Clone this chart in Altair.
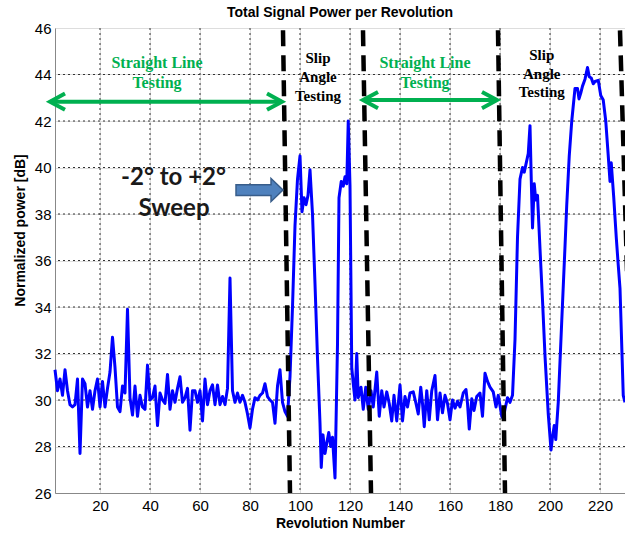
import altair as alt
import pandas as pd

# Total signal power per revolution (normalized, dB)
rev = [
    2, 3, 4, 5, 6, 7, 8, 9, 10, 11, 12, 13, 14, 15, 16, 17, 18, 19, 20, 21,
    22, 23, 24, 25, 26, 27, 28, 29, 30, 31, 32, 33, 34, 35, 36, 37, 38, 39, 40, 41,
    42, 43, 44, 45, 46, 47, 48, 49, 50, 51, 52, 53, 54, 55, 56, 57, 58, 59, 60, 61,
    62, 63, 64, 65, 66, 67, 68, 69, 70, 71, 72, 73, 74, 75, 76, 77, 78, 79, 80, 81,
    82, 83, 84, 85, 86, 87, 88, 89, 90, 91, 92, 93, 94, 95,
    96, 97, 98, 99, 100, 100.8, 101.6, 102.4, 103.2, 104, 105, 106, 107, 108, 108.5,
    109.2, 110, 110.8, 111.5, 112.3, 113, 114, 115, 115.6, 116.5, 117.3, 118, 118.7,
    119.3, 120, 120.7, 121.3, 122, 122.7, 123.3, 124.4, 125.3, 126.3, 127.3,
    128.4, 129.3, 130.7, 131.7, 132.7, 133.6, 134.7, 135.7, 136.7, 137.6, 138.7,
    140, 141, 142, 143, 144, 145.3, 146.4, 147.3, 148.3, 149, 149.7, 150.7, 151.7,
    152.7, 154, 155, 156, 157, 158, 159, 160, 161, 162, 163, 164, 165.3, 166.4, 167,
    167.7, 168.7, 169.6, 170.7, 172, 173, 174, 175, 176, 177.3, 178.4, 179.3, 180.7,
    181.3, 182, 183, 184, 185,
    186, 187, 188, 189, 189.7, 190.5, 191.3, 192, 192.5, 193, 193.7, 194.3, 195,
    196, 197, 198, 199.3, 200.4, 201, 201.7, 202.3, 203.3, 204.7, 206, 206.7, 207.7,
    208.7, 210, 211, 211.6, 212.3, 213, 214, 215, 215.7, 216.5, 217.3, 218, 219.3,
    220.3, 221.3, 222.3, 223.3, 224, 224.5, 225.5, 226.5, 227.3, 228, 229.3, 230,
]
power = [
    31.3, 30.4, 30.9, 30.2, 31.3, 30.4, 29.8, 29.7, 29.8, 30.9, 27.7, 30.9, 30.7, 29.7, 30.4, 29.6, 30.4, 30.9, 29.7, 30.8,
    29.7, 30.5, 31.2, 32.7, 31.4, 29.7, 29.5, 30.6, 30.3, 33.9, 30.1, 29.35, 30.6, 29.3, 30.2, 29.7, 29.6, 31.5, 30.0, 30.1,
    30.6, 28.9, 30.3, 30.0, 29.85, 31.1, 29.6, 30.4, 29.9, 30.5, 31.0, 29.9, 30.1, 30.5, 28.7, 30.4, 30.4, 29.9, 30.4, 29.1,
    30.9, 29.8, 30.4, 30.65, 29.8, 30.65, 29.8, 30.15, 29.8, 30.5, 35.25, 30.4, 29.9, 30.3, 29.9, 30.2, 29.9, 29.4, 28.8, 29.6,
    30.1, 30.0, 30.2, 30.3, 30.7, 30.15, 30.0, 29.9, 29.0, 30.6, 31.3, 29.9, 29.5, 29.3,
    31.0, 34.0, 37.5, 39.5, 40.5, 38.1, 38.7, 38.4, 38.8, 39.9, 38.0, 35.0, 31.8, 29.0, 27.1,
    28.5, 27.7, 28.2, 28.6, 28.0, 28.4, 26.65, 32.4, 38.7, 39.4, 39.2, 39.6, 39.3,
    42.0, 39.2, 31.4, 30.7, 30.0, 32.0, 30.1, 30.55, 29.6, 30.55, 29.6,
    30.4, 29.7, 31.2, 29.3, 30.4, 29.7, 30.35, 29.85, 29.1, 30.2, 29.1,
    30.65, 29.1, 30.15, 29.7, 30.3, 30.35, 29.85, 29.4, 30.55, 29.85, 28.85, 30.4, 29.15,
    30.4, 31.05, 29.15, 30.3, 29.45, 30.2, 29.85, 29.15, 30.0, 29.65, 29.95, 29.7, 30.3, 30.45, 29.85,
    28.75, 30.05, 29.55, 30.15, 30.3, 29.3, 31.15, 30.8, 30.55, 30.35, 29.7, 30.2, 29.3,
    29.2, 29.6, 30.1, 29.9, 30.2,
    32.6, 37.0, 39.5, 40.0, 39.8, 40.2, 40.6, 41.8, 39.5, 37.4, 39.3, 38.6, 38.8,
    36.5, 34.3, 31.9, 29.4, 27.85, 28.4, 28.9, 28.3, 29.9, 33.4, 36.6, 38.4, 40.5,
    42.0, 43.4, 43.4, 42.95, 43.2, 43.5, 43.8, 44.3, 43.9, 43.85, 43.6, 43.7, 43.75,
    43.1, 42.9, 42.0, 40.5, 39.4, 40.2, 38.7, 37.0, 35.8, 34.8, 30.2, 29.9,
]

# Phase boundaries (dashed, slightly slanted): revolution at top and bottom of the axes
boundary_top = [93.2, 125.2, 179.2, 228.0]
boundary_bottom = [96.0, 128.4, 182.0, 233.4]

# Straight-line testing spans (double-headed arrows)
span_start = [0.0, 125.2]
span_end = [92.8, 178.8]
span_level = [42.83, 42.9]

x_ticks = [20, 40, 60, 80, 100, 120, 140, 160, 180, 200, 220]
y_ticks = [26, 28, 30, 32, 34, 36, 38, 40, 42, 44, 46]

GREEN = "#00b050"
SANS = "Liberation Sans"
SERIF = "Liberation Serif"

x_scale = alt.Scale(domain=[2, 230], nice=False, zero=False)
y_scale = alt.Scale(domain=[26, 46], nice=False, zero=False)

x_axis = alt.Axis(values=x_ticks, title="Revolution Number", grid=True, ticks=False,
                  labelFontSize=15, labelPadding=5, titleFontSize=14, titlePadding=3)
y_axis = alt.Axis(values=y_ticks, title="Normalized power [dB]", grid=True, ticks=False,
                  labelFontSize=15, labelPadding=4, titleFontSize=14,
                  titleX=-28, titleY=202)

# dotted grid drawn as its own layer so it sits under the data
grid_x = alt.Chart(pd.DataFrame({"rev": x_ticks})).mark_rule(
    color="#333333", strokeWidth=1, strokeDash=[2, 3]
).encode(x=alt.X("rev:Q", scale=x_scale, axis=x_axis))
grid_y = alt.Chart(pd.DataFrame({"power": y_ticks[1:-1]})).mark_rule(
    color="#333333", strokeWidth=1, strokeDash=[2, 3]
).encode(y=alt.Y("power:Q", scale=y_scale, axis=y_axis))

signal = pd.DataFrame({"rev": rev, "power": power})
line = alt.Chart(signal).mark_line(color="#0000ff", strokeWidth=3, strokeJoin="round").encode(
    x=alt.X("rev:Q", scale=x_scale, axis=x_axis),
    y=alt.Y("power:Q", scale=y_scale, axis=y_axis),
)

# dashed boundaries
brows = []
for i, (t, b) in enumerate(zip(boundary_top, boundary_bottom)):
    brows.append({"id": i, "k": 0, "rev": t, "power": 45.9})
    brows.append({"id": i, "k": 1, "rev": b, "power": 26.0})
boundaries = alt.Chart(pd.DataFrame(brows)).mark_line(
    color="black", strokeWidth=4.5, strokeDash=[16, 9], clip=True
).encode(
    x=alt.X("rev:Q", scale=x_scale), y=alt.Y("power:Q", scale=y_scale),
    detail="id:N", order="k:Q",
)

# green double arrows: shaft plus an open chevron at each end
head_dx, head_dy = 6.0, 0.35
arows = []
for i, (a, b, lv) in enumerate(zip(span_start, span_end, span_level)):
    arows += [
        {"seg": f"s{i}", "k": 0, "rev": a, "power": lv},
        {"seg": f"s{i}", "k": 1, "rev": b, "power": lv},
        {"seg": f"l{i}", "k": 0, "rev": a + head_dx, "power": lv + head_dy},
        {"seg": f"l{i}", "k": 1, "rev": a, "power": lv},
        {"seg": f"l{i}", "k": 2, "rev": a + head_dx, "power": lv - head_dy},
        {"seg": f"r{i}", "k": 0, "rev": b - head_dx, "power": lv + head_dy},
        {"seg": f"r{i}", "k": 1, "rev": b, "power": lv},
        {"seg": f"r{i}", "k": 2, "rev": b - head_dx, "power": lv - head_dy},
    ]
arrows = alt.Chart(pd.DataFrame(arows)).mark_line(
    color=GREEN, strokeWidth=4, strokeJoin="miter", strokeCap="butt"
).encode(
    x=alt.X("rev:Q", scale=x_scale), y=alt.Y("power:Q", scale=y_scale),
    detail="seg:N", order="k:Q",
)

green_text = pd.DataFrame({
    "rev": [42.8, 42.8, 150.0, 150.0],
    "power": [44.48, 43.62, 44.48, 43.62],
    "label": ["Straight Line", "Testing", "Straight Line", "Testing"],
})
green_labels = alt.Chart(green_text).mark_text(
    font=SERIF, fontSize=16, fontWeight="bold", color=GREEN, baseline="middle"
).encode(x=alt.X("rev:Q", scale=x_scale), y=alt.Y("power:Q", scale=y_scale), text="label:N")

slip_text = pd.DataFrame({
    "rev": [107.2, 107.2, 107.2, 196.7, 196.7, 196.7],
    "power": [44.7, 43.9, 43.08, 44.84, 44.02, 43.26],
    "label": ["Slip", "Angle", "Testing", "Slip", "Angle", "Testing"],
})
slip_labels = alt.Chart(slip_text).mark_text(
    font=SERIF, fontSize=15, fontWeight="bold", color="black", baseline="middle"
).encode(x=alt.X("rev:Q", scale=x_scale), y=alt.Y("power:Q", scale=y_scale), text="label:N")

sweep_text = pd.DataFrame({
    "rev": [49.4, 49.6],
    "power": [39.55, 38.2],
    "label": ["-2° to +2°", "Sweep"],
})
sweep_labels = alt.Chart(sweep_text).mark_text(
    font="Lato", fontSize=24, fontWeight="bold", color="#1a1a1a", baseline="middle"
).encode(x=alt.X("rev:Q", scale=x_scale), y=alt.Y("power:Q", scale=y_scale), text="label:N")

# block arrow pointing at the first boundary
block_path = "M-1,-0.23 L0.49,-0.23 L0.49,-0.49 L1,0 L0.49,0.49 L0.49,0.23 L-1,0.23 Z"
block = alt.Chart(pd.DataFrame({"rev": [83.8], "power": [39.03]})).mark_point(
    shape=block_path, size=2209, filled=True, fill="#4f81bd", stroke="#385d8a",
    strokeWidth=1.5, opacity=1
).encode(x=alt.X("rev:Q", scale=x_scale), y=alt.Y("power:Q", scale=y_scale))

chart = alt.layer(
    grid_x, grid_y, line, boundaries, arrows, green_labels, slip_labels, sweep_labels, block
).properties(
    width=570,
    height=465,
    title=alt.TitleParams("Total Signal Power per Revolution", fontSize=14, font=SANS,
                          fontWeight="bold", anchor="middle", offset=1, color="black"),
    autosize=alt.AutoSizeParams(type="none"),
    padding={"left": 55, "top": 28, "right": 0, "bottom": 44},
).configure_view(
    stroke="#222222", strokeWidth=1
).configure_axis(
    labelFont=SANS, titleFont=SANS, labelColor="black", titleColor="black",
    titleFontWeight="bold", domainColor="#222222", domainWidth=1, grid=False,
).configure(background="white")

chart.save("out.html", embed_options={"renderer": "svg", "actions": False})
